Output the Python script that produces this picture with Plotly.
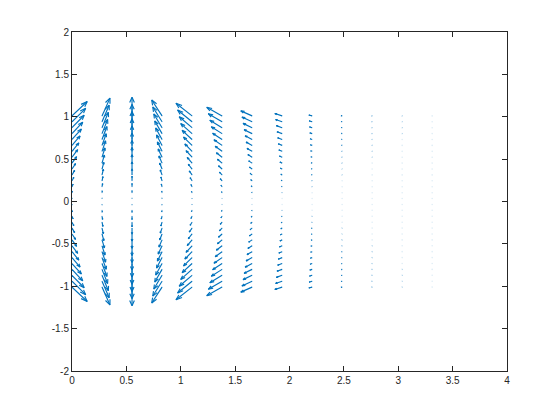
import plotly.graph_objects as go

# grid of arrow bases
x_cols = [0.0, 0.276, 0.552, 0.828, 1.104, 1.38, 1.656, 1.932, 2.208, 2.484, 2.76, 3.036, 3.312]
y_rows = [-1.010, -0.941, -0.871, -0.801, -0.732, -0.662, -0.592, -0.523, -0.453, -0.383,
          -0.314, -0.244, -0.174, -0.104, -0.035, 0.035, 0.104, 0.174, 0.244, 0.314,
          0.383, 0.453, 0.523, 0.592, 0.662, 0.732, 0.801, 0.871, 0.941, 1.010]

# arrow components read at the top row (y = 1.01), per column
u_top = [0.14, 0.073, 0.0, -0.095, -0.148, -0.141, -0.104, -0.067, -0.03, -0.01, -0.004, -0.002, -0.001]
v_top = [0.17, 0.21, 0.22, 0.187, 0.149, 0.102, 0.059, 0.028, 0.011, 0.003, 0.001, 0.0005, 0.0002]

# how the arrows shrink towards y = 0 (u even in y, v odd in y)
u_rows = [1.0, 0.90, 0.80, 0.706, 0.617, 0.53, 0.449, 0.373, 0.301, 0.233,
          0.173, 0.118, 0.071, 0.033, 0.006, 0.006, 0.033, 0.071, 0.118, 0.173,
          0.233, 0.301, 0.373, 0.449, 0.53, 0.617, 0.706, 0.80, 0.90, 1.0]
v_rows = [-1.0, -0.932, -0.862, -0.793, -0.725, -0.655, -0.586, -0.518, -0.449, -0.379,
          -0.311, -0.241, -0.172, -0.103, -0.034, 0.034, 0.103, 0.172, 0.241, 0.311,
          0.379, 0.449, 0.518, 0.586, 0.655, 0.725, 0.793, 0.862, 0.932, 1.0]

x_ticks = [0, 0.5, 1, 1.5, 2, 2.5, 3, 3.5, 4]
x_ticklabels = ["0", "0.5", "1", "1.5", "2", "2.5", "3", "3.5", "4"]
y_ticks = [-2, -1.5, -1, -0.5, 0, 0.5, 1, 1.5, 2]
y_ticklabels = ["-2", "-1.5", "-1", "-0.5", "0", "0.5", "1", "1.5", "2"]

BLUE = "#0072BD"
alpha, beta = 0.28, 0.35

lx, ly = [], []
bx, by = [], []
for i, x0 in enumerate(x_cols):
    for j, y0 in enumerate(y_rows):
        u = u_top[i] * u_rows[j]
        v = v_top[i] * v_rows[j]
        tx, ty = x0 + u, y0 + v
        # shaft
        lx += [x0, tx, None]
        ly += [y0, ty, None]
        # head
        hx1 = tx - alpha * (u + beta * v)
        hy1 = ty - alpha * (v - beta * u)
        hx2 = tx - alpha * (u - beta * v)
        hy2 = ty - alpha * (v + beta * u)
        lx += [hx1, tx, hx2, None]
        ly += [hy1, ty, hy2, None]
        bx.append(x0)
        by.append(y0)

fig = go.Figure()
fig.add_trace(go.Scatter(
    x=bx, y=by, mode="markers",
    marker=dict(size=1.6, color="rgba(0,114,189,0.13)"),
    hoverinfo="skip", showlegend=False,
))
fig.add_trace(go.Scatter(
    x=lx, y=ly, mode="lines",
    line=dict(color=BLUE, width=1.15),
    hoverinfo="skip", showlegend=False,
))

axis_style = dict(
    showgrid=False, zeroline=False, showline=True, mirror="ticks",
    linecolor="#262626", linewidth=1, ticks="inside", ticklen=5,
    tickcolor="#262626", tickfont=dict(family="Liberation Sans, Arial", size=10, color="#262626"),
)
fig.update_xaxes(range=[0, 4], tickvals=x_ticks, ticktext=x_ticklabels, **axis_style)
fig.update_yaxes(range=[-2, 2], tickvals=y_ticks, ticktext=y_ticklabels, **axis_style)

# the page body adds an 8px offset, so margins are shifted to keep the plot box in place
fig.update_layout(
    width=560, height=420,
    margin=dict(l=64, r=61, t=24, b=57),
    plot_bgcolor="white", paper_bgcolor="white",
    showlegend=False,
)

fig.write_html("out.html")
